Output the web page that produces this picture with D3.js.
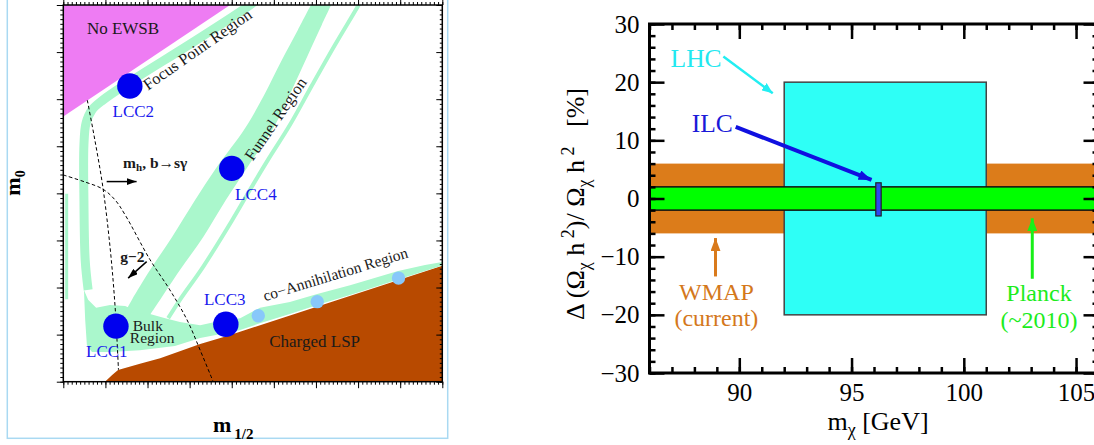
<!DOCTYPE html>
<html><head><meta charset="utf-8">
<script src="https://cdn.jsdelivr.net/npm/d3@7"></script>
<style>
body{margin:0;background:#fff}
svg{display:block}
text{font-family:"Liberation Serif","Times New Roman",serif}
</style>
</head><body>
<svg id="c" width="1094" height="445"></svg>
<script>
// ================= LEFT PANEL DATA (m1/2, m0 in arbitrary units) =================
const noEwsb = [[0,800],[396,800],[0,563]];
const chargedLsp = [[99,0],[116,14],[130,25],[182,38],[230,50],[325,80],[389,97],[900,246],[900,0]];
const bulkRegion = [[49,195],[59,174],[78,157],[111,163],[147,161],[170,152],[206,144],[242,135],[277,127],[325,120],[360,127],[396,135],[384,103],[325,93],[265,76],[182,67],[111,63],[68,63],[56,78],[52,131]];
const coannUpper = [[360,127],[420,135],[467,157],[538,169],[603,186],[681,205],[795,235],[859,248],[900,254]];
const coannLower = [[900,247],[795,217],[681,184],[603,163],[538,144],[467,124],[420,110],[384,101]];
const funnelLeft = [[588,800],[557,747],[519,683],[477,609],[432,539],[363,454],[313,386],[258,307],[206,237],[163,174],[147,148]];
const funnelRight = [[636,800],[614,758],[581,694],[543,620],[503,545],[436,454],[386,386],[332,307],[277,237],[230,174],[206,142]];
const focusStrip = [[463,813],[427,790],[301,717],[158,637],[94,598],[68,577],[54,549],[49,503],[49,386],[52,258],[59,195]];
const funnelThin = [[712,818],[700,798],[645,715],[591,630],[538,545],[486,471],[443,407],[401,343],[332,244],[277,174],[249,135]];
const edgeStrip = [[8,399],[8,175]];
const dashMhBsg = [[0,439],[52,424],[94,409],[123,386],[147,354],[206,259],[253,195],[294,131],[325,67],[356,0]];
const dashG2 = [[57,598],[75,513],[94,413],[111,286],[123,159],[131,25]];
const lccNames = ["LCC1","LCC2","LCC3","LCC4"];
const lccPoints = [[125,118],[158,628],[386,122],[400,453]];
const lccLabelPos = [[54,53],[117,562],[334,163],[408,386]];
const extraPoints = [[463,140],[603,170],[796,220]];
const mhArrow = [[103,425],[174,425]];
const g2Arrow = [[198,255],[154,220]];

// ================= RIGHT PANEL DATA =================
const massTicks = [90,95,100,105];
const massMinor = d3.range(86,107,1);
const omegaTicks = [-30,-20,-10,0,10,20,30];
const omegaMinor = d3.range(-30,31,2);
const massDomain = [86,106];
const omegaDomain = [-30,30];
const wmapBand = [-6,6];
const planckBand = [-2,2];
const lhcMass = [92,101];
const lhcOmega = [-20,20];
const ilcMass = [96.08,96.32];
const ilcOmega = [-3.0,2.7];
const lhcArrow = [[89.29,24.4],[91.49,18.1]];
const ilcArrow = [[89.84,12.3],[95.89,3.2]];
const wmapArrow = [[88.94,-13.4],[88.94,-6.8]];
const planckArrow = [[103.05,-13.8],[103.05,-3.4]];

const GREEN="#aaf7cc", PINK="#ee7cf3", BROWN="#b84a00", BLUE="#0000ee", LBLUE="#88c8fa";
const svg = d3.select("#c");
const defs = svg.append("defs");
function marker(id,color,len,wid){
  defs.append("marker").attr("id",id).attr("markerUnits","userSpaceOnUse")
    .attr("markerWidth",len).attr("markerHeight",wid).attr("refX",len).attr("refY",wid/2)
    .attr("orient","auto").append("path").attr("d",`M0,0L${len},${wid/2}L0,${wid}Z`).attr("fill",color);
}
marker("mBlack","#000",10,7);
marker("mCyan","#22eef2",11,9);
marker("mBlue","#1010e0",13,10);
marker("mOrange","#d97a1c",13,10);
marker("mGreen","#18f018",13,10);

// ---------- LEFT ----------
const lx = d3.scaleLinear([0,900],[63.3,442.3]);
const ly = d3.scaleLinear([0,800],[381.7,5]);
const poly = d3.line().x(d=>lx(d[0])).y(d=>ly(d[1]));
const smooth = d3.line().x(d=>lx(d[0])).y(d=>ly(d[1])).curve(d3.curveCatmullRom);
svg.append("rect").attr("x",7.3).attr("y",-5).attr("width",440.4).attr("height",443.3)
  .attr("fill","none").attr("stroke","#a9d9f2").attr("stroke-width",1.5);
defs.append("clipPath").attr("id","lclip").append("rect")
  .attr("x",lx(0)).attr("y",ly(800)).attr("width",lx(900)-lx(0)).attr("height",ly(0)-ly(800));
const P = svg.append("g").attr("clip-path","url(#lclip)");
P.append("path").attr("d",poly(noEwsb)+"Z").attr("fill",PINK);
P.append("path").attr("d",poly(chargedLsp)+"Z").attr("fill",BROWN);
P.append("path").attr("d",poly(bulkRegion)+"Z").attr("fill",GREEN);
P.append("path").attr("d",poly(coannUpper.concat(coannLower))+"Z").attr("fill",GREEN);
P.append("path").attr("d",smooth(funnelLeft)+"L"+smooth(funnelRight.slice().reverse()).slice(1)+"Z").attr("fill",GREEN);
P.append("path").attr("d",smooth(focusStrip)).attr("fill","none").attr("stroke",GREEN).attr("stroke-width",9).attr("stroke-linejoin","round");
P.append("path").attr("d",smooth(funnelThin)).attr("fill","none").attr("stroke",GREEN).attr("stroke-width",4);
P.append("path").attr("d",poly(edgeStrip)).attr("fill","none").attr("stroke",GREEN).attr("stroke-width",3);
[dashMhBsg,dashG2].forEach(d=>P.append("path").attr("d",smooth(d)).attr("fill","none")
  .attr("stroke","#000").attr("stroke-width",1).attr("stroke-dasharray","3.5,2.5"));
P.selectAll("circle.lcc").data(lccPoints).join("circle").attr("class","lcc")
  .attr("cx",d=>lx(d[0])).attr("cy",d=>ly(d[1])).attr("r",12.7).attr("fill",BLUE);
P.selectAll("circle.ex").data(extraPoints).join("circle").attr("class","ex")
  .attr("cx",d=>lx(d[0])).attr("cy",d=>ly(d[1])).attr("r",6.7).attr("fill",LBLUE);
[mhArrow,g2Arrow].forEach(a=>svg.append("line").attr("x1",lx(a[0][0])).attr("y1",ly(a[0][1]))
  .attr("x2",lx(a[1][0])).attr("y2",ly(a[1][1])).attr("stroke","#000").attr("stroke-width",1.5).attr("marker-end","url(#mBlack)"));

// left axes
function lAxis(gen, tr, vals, size){
  svg.append("g").attr("transform",tr).call(gen.tickValues(vals).tickSizeInner(size).tickSizeOuter(0).tickFormat(""))
    .call(g=>g.select(".domain").remove()).selectAll("line").attr("stroke","#000").attr("stroke-width",1);
}
const lxMin=d3.range(0,901,10), lxMaj=d3.range(0,901,100), lyMin=d3.range(0,801,10), lyMaj=d3.range(0,801,100);
lAxis(d3.axisBottom(lx),`translate(0,${ly(0)})`,lxMin,3);
lAxis(d3.axisBottom(lx),`translate(0,${ly(0)})`,lxMaj,6.5);
lAxis(d3.axisTop(lx),`translate(0,${ly(800)})`,lxMin,3);
lAxis(d3.axisTop(lx),`translate(0,${ly(800)})`,lxMaj,5);
lAxis(d3.axisLeft(ly),`translate(${lx(0)},0)`,lyMin,3);
lAxis(d3.axisLeft(ly),`translate(${lx(0)},0)`,lyMaj,6.5);
lAxis(d3.axisRight(ly),`translate(${lx(900)},0)`,lyMin,-2.5);
lAxis(d3.axisRight(ly),`translate(${lx(900)},0)`,lyMaj,-6);
svg.append("rect").attr("x",lx(0)).attr("y",ly(800)).attr("width",lx(900)-lx(0)).attr("height",ly(0)-ly(800))
  .attr("fill","none").attr("stroke","#000").attr("stroke-width",1.5);

// left texts
function lt(txt,p,size,opt={}){
  const t = svg.append("text").attr("transform",`translate(${lx(p[0])},${ly(p[1])}) rotate(${opt.rot||0})`)
    .attr("font-size",size).attr("fill",opt.fill||"#1a1a1a").attr("font-weight",opt.bold?"bold":null).text(txt);
  return t;
}
lt("No EWSB",[56,738],17);
lt("Focus Point Region",[201,618],16.3,{rot:-35});
lt("Funnel Region",[450,467],16.3,{rot:-55.5});
lt("co\u2212Annihilation Region",[479,171],15.5,{rot:-17});
lt("Bulk",[165,108],15.5);
lt("Region",[158,82],15.5);
lt("Charged LSP",[489,73],17);
lt("g\u22122",[135,254],15.5,{bold:true});
const mh = lt("",[142,454],15.5,{bold:true});
mh.append("tspan").text("m");
mh.append("tspan").attr("font-size",11).attr("dy",3).text("h");
mh.append("tspan").attr("dy",-3).text(", b\u2192s\u03b3");
svg.selectAll("text.lcc").data(lccNames).join("text").attr("class","lcc")
  .attr("x",(d,i)=>lx(lccLabelPos[i][0])).attr("y",(d,i)=>ly(lccLabelPos[i][1]))
  .attr("font-size",17).attr("fill","#1a1aee").text(d=>d);
// axis titles
const m0 = svg.append("text").attr("transform","translate(20,183) rotate(-90)").attr("text-anchor","middle")
  .attr("font-size",22).attr("font-weight","bold");
m0.append("tspan").text("m");
m0.append("tspan").attr("font-size",14).attr("dy",5).text("0");
const mh2 = svg.append("text").attr("x",213).attr("y",432).attr("font-size",22).attr("font-weight","bold");
mh2.append("tspan").text("m");
mh2.append("tspan").attr("font-size",15).attr("dx",3).attr("dy",7).text("1/2");

// ---------- RIGHT ----------
const rx = d3.scaleLinear(massDomain,[649.5,1098.5]);
const ry = d3.scaleLinear(omegaDomain,[373,24]);
defs.append("clipPath").attr("id","rclip").append("rect")
  .attr("x",rx(86)).attr("y",ry(30)).attr("width",rx(106)-rx(86)).attr("height",ry(-30)-ry(30));
const R = svg.append("g").attr("clip-path","url(#rclip)");
R.append("rect").attr("x",rx(86)).attr("width",rx(106)-rx(86)).attr("y",ry(wmapBand[1])).attr("height",ry(wmapBand[0])-ry(wmapBand[1])).attr("fill","#dc7c1a");
R.append("rect").attr("x",rx(lhcMass[0])).attr("width",rx(lhcMass[1])-rx(lhcMass[0])).attr("y",ry(lhcOmega[1])).attr("height",ry(lhcOmega[0])-ry(lhcOmega[1]))
  .attr("fill","#2efff6").attr("stroke","#444").attr("stroke-width",1.5);
R.append("rect").attr("x",rx(85)).attr("width",rx(107)-rx(85)).attr("y",ry(planckBand[1])).attr("height",ry(planckBand[0])-ry(planckBand[1]))
  .attr("fill","#00ff00").attr("stroke","#111").attr("stroke-width",1.5);
R.append("rect").attr("x",rx(ilcMass[0])).attr("width",rx(ilcMass[1])-rx(ilcMass[0])).attr("y",ry(ilcOmega[1])).attr("height",ry(ilcOmega[0])-ry(ilcOmega[1]))
  .attr("fill","#2c48f0").attr("stroke","#222").attr("stroke-width",1.2);

function arrow(a,color,w,m){
  svg.append("line").attr("x1",rx(a[0][0])).attr("y1",ry(a[0][1])).attr("x2",rx(a[1][0])).attr("y2",ry(a[1][1]))
    .attr("stroke",color).attr("stroke-width",w).attr("marker-end",`url(#${m})`);
}
arrow(lhcArrow,"#22eef2",2.5,"mCyan");
arrow(ilcArrow,"#1010e0",4,"mBlue");
arrow(wmapArrow,"#d97a1c",3,"mOrange");
arrow(planckArrow,"#18f018",3,"mGreen");

function rt(txt,p,color,anchor,size){
  svg.append("text").attr("x",rx(p[0])).attr("y",ry(p[1])).attr("font-size",size||25.5).attr("fill",color)
    .attr("text-anchor",anchor||"start").text(txt);
}
rt("LHC",[86.94,22.66],"#22e8f0");
rt("ILC",[87.88,11.48],"#1a1ad8");
rt("WMAP",[88.98,-17.5],"#d4781c","middle",24);
rt("(current)",[88.98,-21.95],"#d4781c","middle",24);
rt("Planck",[103.35,-17.6],"#1cec1c","middle",24);
rt("(~2010)",[103.35,-22.2],"#1cec1c","middle",24);

function rAxis(gen,tr,vals,size,labels){
  const g = svg.append("g").attr("transform",tr)
    .call(gen.tickValues(vals).tickSizeInner(size).tickSizeOuter(0).tickPadding(labels?10:0).tickFormat(labels?d3.format("d"):""))
    .call(g=>g.select(".domain").remove());
  g.selectAll("line").attr("stroke","#000").attr("stroke-width",2.5);
  g.selectAll("text").attr("font-family","Liberation Serif").attr("font-size",25).attr("fill","#000");
}
rAxis(d3.axisBottom(rx),`translate(0,${ry(-30)})`,massMinor,-6,false);
rAxis(d3.axisBottom(rx),`translate(0,${ry(-30)})`,massTicks,-15,true);
rAxis(d3.axisTop(rx),`translate(0,${ry(30)})`,massMinor,-6,false);
rAxis(d3.axisTop(rx),`translate(0,${ry(30)})`,massTicks,-15,false);
rAxis(d3.axisLeft(ry),`translate(${rx(86)},0)`,omegaMinor,-6,false);
rAxis(d3.axisLeft(ry),`translate(${rx(86)},0)`,omegaTicks,-15,true);
rAxis(d3.axisRight(ry),`translate(${rx(106)},0)`,omegaMinor,-6,false);
rAxis(d3.axisRight(ry),`translate(${rx(106)},0)`,omegaTicks,-15,false);
svg.append("rect").attr("x",rx(86)).attr("y",ry(30)).attr("width",rx(106)-rx(86)).attr("height",ry(-30)-ry(30))
  .attr("fill","none").attr("stroke","#000").attr("stroke-width",3);

const xl = svg.append("text").attr("x",878).attr("y",430).attr("text-anchor","middle").attr("font-size",26);
xl.append("tspan").text("m");
xl.append("tspan").attr("font-size",18).attr("dy",6).text("\u03c7");
xl.append("tspan").attr("dy",-6).text(" [GeV]");

const yl = svg.append("text").attr("transform","translate(584,204) rotate(-90)").attr("text-anchor","middle").attr("font-size",26);
yl.append("tspan").text("\u0394 (\u03a9");
yl.append("tspan").attr("font-size",18).attr("dy",6).text("\u03c7");
yl.append("tspan").attr("dy",-6).text(" h");
yl.append("tspan").attr("font-size",18).attr("dy",-10).text("\u00a02");
yl.append("tspan").attr("dy",10).text(")/ \u03a9");
yl.append("tspan").attr("font-size",18).attr("dy",6).text("\u03c7");
yl.append("tspan").attr("dy",-6).text(" h");
yl.append("tspan").attr("font-size",18).attr("dy",-10).text("\u00a02");
yl.append("tspan").attr("dy",10).text("\u00a0\u00a0\u00a0[%]");
</script>
</body></html>
